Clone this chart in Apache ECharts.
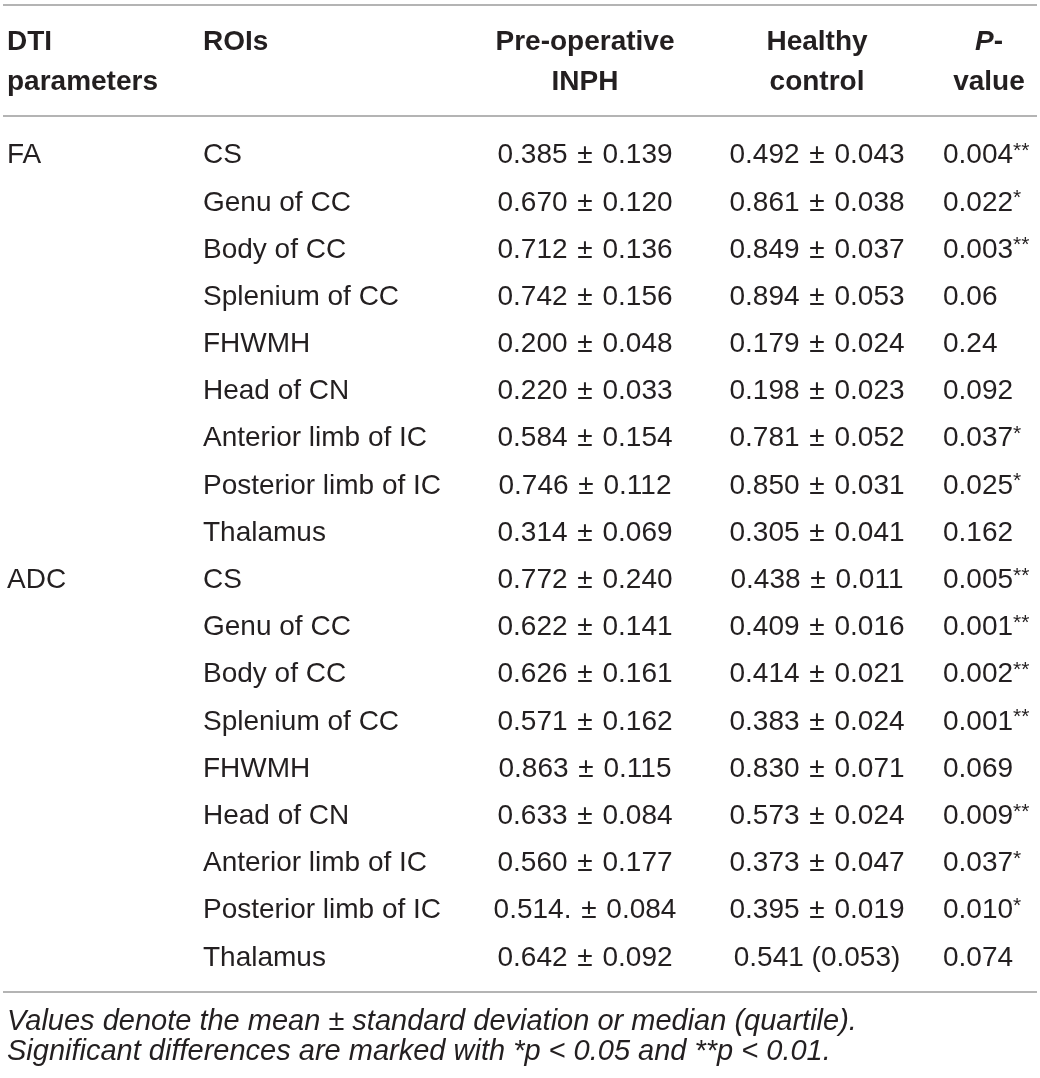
<!DOCTYPE html>
<html lang="en">
<head>
<meta charset="UTF-8" />
<title>DTI parameters: INPH vs healthy control</title>
<style>
  html, body { margin: 0; padding: 0; background: #fff; }
  #main { width: 1040px; height: 1078px; }
</style>
</head>
<body>
<div id="main"></div>
<script src="https://cdn.jsdelivr.net/npm/echarts@6/dist/echarts.min.js"></script>
<script>
// table data
var parameters = ["FA", "ADC"];
var rois = ["CS", "Genu of CC", "Body of CC", "Splenium of CC", "FHWMH",
  "Head of CN", "Anterior limb of IC", "Posterior limb of IC", "Thalamus"];
var preOperative = [
  "0.385 ± 0.139", "0.670 ± 0.120", "0.712 ± 0.136", "0.742 ± 0.156", "0.200 ± 0.048",
  "0.220 ± 0.033", "0.584 ± 0.154", "0.746 ± 0.112", "0.314 ± 0.069",
  "0.772 ± 0.240", "0.622 ± 0.141", "0.626 ± 0.161", "0.571 ± 0.162", "0.863 ± 0.115",
  "0.633 ± 0.084", "0.560 ± 0.177", "0.514. ± 0.084", "0.642 ± 0.092"];
var healthyControl = [
  "0.492 ± 0.043", "0.861 ± 0.038", "0.849 ± 0.037", "0.894 ± 0.053", "0.179 ± 0.024",
  "0.198 ± 0.023", "0.781 ± 0.052", "0.850 ± 0.031", "0.305 ± 0.041",
  "0.438 ± 0.011", "0.409 ± 0.016", "0.414 ± 0.021", "0.383 ± 0.024", "0.830 ± 0.071",
  "0.573 ± 0.024", "0.373 ± 0.047", "0.395 ± 0.019", "0.541 (0.053)"];
var pValues = [
  "0.004", "0.022", "0.003", "0.06", "0.24", "0.092", "0.037", "0.025", "0.162",
  "0.005", "0.001", "0.002", "0.001", "0.069", "0.009", "0.037", "0.010", "0.074"];
var stars = [
  "**", "*", "**", "", "", "", "*", "*", "",
  "**", "**", "**", "**", "", "**", "*", "*", ""];
var footnotes = [
  "Values denote the mean ± standard deviation or median (quartile).",
  "Significant differences are marked with *p < 0.05 and **p < 0.01."];

// layout
var FONT = "'Liberation Sans', Arial, Helvetica, sans-serif";
var INK = "#231f20";
var RULE = "#9b9b9b";
var col = { param: 7, roi: 203, pre: 585, healthy: 817, p: 943, pHead: 989 };

var rowNames = [];
var rowParam = [];
for (var i = 0; i < preOperative.length; i++) {
  rowNames.push(rois[i % rois.length]);
  rowParam.push(i % rois.length === 0 ? parameters[i / rois.length] : "");
}

var valueRich = {
  n: { fontFamily: FONT, fontSize: 28, fill: INK },
  pm: { fontFamily: FONT, fontSize: 28, fill: INK, padding: [0, 2] }
};

// the ± is set a touch wider, as in the original typesetting
function spaced(text) {
  var parts = text.split(" ± ");
  if (parts.length < 2) return "{n|" + text + "}";
  return "{n|" + parts[0] + "} {pm|±} {n|" + parts[1] + "}";
}

function cell(x, y, text, align, rich) {
  return {
    type: "text",
    style: {
      x: x, y: y, text: text, align: align, verticalAlign: "middle",
      fontFamily: FONT, fontSize: 28, fill: INK, rich: rich
    }
  };
}

var pRich = {
  v: { fontFamily: FONT, fontSize: 28, lineHeight: 30, fill: INK },
  s: { fontFamily: FONT, fontSize: 21, lineHeight: 21, fill: INK, verticalAlign: "top" }
};

function renderRow(params, api) {
  var i = api.value(1);
  var y = api.coord([0, i])[1];
  var x = function (v) { return api.coord([v, i])[0]; };
  var p = "{v|" + pValues[i] + "}" + (stars[i] ? "{s|" + stars[i] + "}" : "");
  return {
    type: "group",
    children: [
      cell(x(col.param), y, rowParam[i], "left"),
      cell(x(col.roi), y, rowNames[i], "left"),
      cell(x(col.pre), y, spaced(preOperative[i]), "center", valueRich),
      cell(x(col.healthy), y, spaced(healthyControl[i]), "center", valueRich),
      cell(x(col.p), y, p, "left", pRich)
    ]
  };
}

function head(x, y, text, align, rich) {
  return {
    type: "text", x: x, y: y,
    style: {
      text: text, align: align, verticalAlign: "middle",
      fontFamily: FONT, fontSize: 28, fontWeight: "bold", fill: INK, rich: rich
    }
  };
}

function rule(y) {
  return { type: "line", shape: { x1: 3, y1: y, x2: 1037, y2: y },
    style: { stroke: RULE, lineWidth: 1.5 } };
}

function note(y, text) {
  return {
    type: "text", x: 7, y: y,
    style: { text: text, verticalAlign: "middle", fontFamily: FONT,
      fontSize: 29, fontStyle: "italic", fill: INK }
  };
}

var chart = echarts.init(document.getElementById("main"), null, { renderer: "canvas" });

chart.setOption({
  animation: false,
  backgroundColor: "#fff",
  grid: { left: 0, right: 0, top: 132, bottom: 96.5 },
  xAxis: { type: "value", min: 0, max: 1040, show: false },
  yAxis: { type: "category", data: rowNames, inverse: true, show: false },
  series: [{
    type: "custom",
    renderItem: renderRow,
    encode: { x: 0, y: 1 },
    data: rowNames.map(function (n, i) { return [0, i]; })
  }],
  graphic: [
    rule(5), rule(116), rule(992),
    head(col.param, 42, "DTI", "left"),
    head(col.param, 82, "parameters", "left"),
    head(col.roi, 42, "ROIs", "left"),
    head(col.pre, 42, "Pre-operative", "center"),
    head(col.pre, 82, "INPH", "center"),
    head(col.healthy, 42, "Healthy", "center"),
    head(col.healthy, 82, "control", "center"),
    head(col.pHead, 42, "{i|P}{n|-}", "center", {
      i: { fontFamily: FONT, fontSize: 28, fontWeight: "bold", fontStyle: "italic", fill: INK },
      n: { fontFamily: FONT, fontSize: 28, fontWeight: "bold", fill: INK }
    }),
    head(col.pHead, 82, "value", "center"),
    note(1022, footnotes[0]),
    note(1052, footnotes[1])
  ]
});
</script>
</body>
</html>
